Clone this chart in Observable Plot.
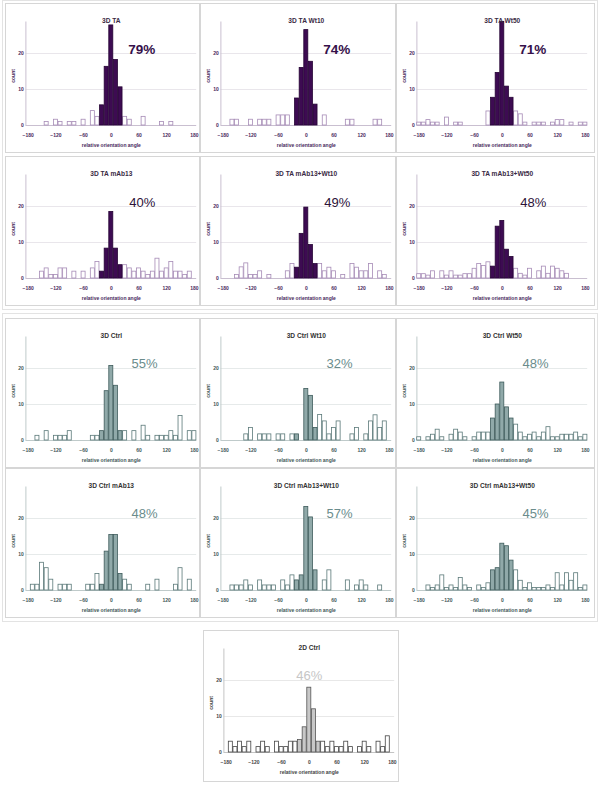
<!DOCTYPE html>
<html><head><meta charset="utf-8">
<script src="https://cdn.jsdelivr.net/npm/d3@7"></script>
<script src="https://cdn.jsdelivr.net/npm/@observablehq/plot@0.6"></script>
<style>
body{margin:0;background:#fff;}
#fig{position:relative;width:600px;height:795px;font-family:"Liberation Sans",Arial,sans-serif;background:#fff;}
.panel{position:absolute;box-sizing:border-box;border:1px solid #d6d6d6;background:#fff;}
.group{position:absolute;box-sizing:border-box;border:1px solid #e3e3e3;}
.panel svg{display:block;overflow:visible;}
</style></head>
<body><div id="fig"></div>
<script>
// bin centres (degrees)
const angles = [-180,-170,-160,-150,-140,-130,-120,-110,-100,
  -90,-80,-70,-60,-50,-40,-30,-20,-10,
  0,
  10,20,30,40,50,60,70,80,90,
  100,110,120,130,140,150,160,170,180];
const tickAngles = [-180,-120,-60,0,60,120,180];
const countTicks = [0,10,20];

const taCounts = [0,0,0,0,1,0,1.6,1,0,
  1,1,0,1.6,0,4,2.4,5.6,16.3,
  27.8,
  18.2,10.6,2.4,1.6,0,0,2.4,0,0,
  0,1,0,1,0,0,0,0,0];
const taWt10Counts = [0,0,1.6,1.6,0,0,1.6,0,1.6,
  1.6,1.6,0,2.8,2.8,2.8,0,7.5,16,
  26.5,
  17.7,5.8,0,2.8,0,0,0,0,1.6,
  1.6,0,0,0,0,1.6,1.6,0,0];
const taWt50Counts = [0.8,0.8,1.5,0.8,0.8,0,2.2,0,0.8,
  0.8,0,0,0,0,0,3.9,7.7,14.6,
  28.8,
  10.8,7.7,3.9,3.1,0.8,0,0.8,0.8,0.8,
  0,0.8,1.5,1.5,0,0.8,0,0.8,0.8];
const taMab13Counts = [0,0,0,1.9,2.8,1,1,2.8,2.8,
  0,1.9,0,1.9,0,2.8,4.6,1.9,8.3,
  18.5,
  8.3,3.7,3.7,2.8,1.9,2.8,1.9,1,1.9,
  5.5,1.9,2.8,4.6,1.9,1.9,1,1.9,0];
const taMab13Wt10Counts = [0,0,0,1,3.1,4.2,1,1,2,
  0,1,0,0,0,2,4,3,12.4,
  19.7,
  9.3,4,4,2,3,2,0,1,0,
  4,3,2,2,4,0,2,1,0];
const taMab13Wt50Counts = [1.2,1.2,0.8,2,0,2,0.8,2,0.8,
  0.8,1.2,1.2,2.7,4,3.5,4.5,3.3,14.4,
  16,
  8,6,2.7,1.3,0.8,2.7,0,2,3.3,
  1.3,3.3,2.7,2,1.3,0,0,0,0];
const ctrlCounts = [0,0,1.3,0,2.6,0,1.3,1.3,1.3,
  2.6,0,0,0,0,1.3,1.3,2.6,13.7,
  20.7,
  15.2,2.6,2.6,0,2.6,0,4.1,1.3,0,
  1.3,1.3,1.3,2.6,1.3,6.8,0,2.6,2.6];
const ctrlWt10Counts = [0,0,0,0,0,1.7,3.5,0,1.7,
  1.7,1.7,0,1.7,1.7,0,1.7,1.7,0,
  14.3,
  12.4,3.5,7.1,5.3,1.7,3.5,5.3,0,0,
  1.7,3.5,0,1.7,5.3,7,3.5,5.3,0];
const ctrlWt50Counts = [0.9,0,0.9,1.6,3,0.9,0,1.6,3,
  2.2,0.9,0,0.9,2.2,2.2,2.2,6.1,10,
  16.1,
  9.2,6.1,4.4,2.2,0.9,1.6,2.2,0.9,2.2,
  3.7,0.9,0.9,1.6,1.6,1.6,2.2,0.9,1.6];
const ctrlMab13Counts = [0,1.6,1.6,7.7,6.2,3,0,1.6,1.6,
  1.6,0,0,0,1.6,1.6,4.6,1.6,10.8,
  15.4,
  15.4,4.6,3,1.6,0,0,0,1.6,0,
  3,0,0,0,1.6,6.2,0,3,0];
const ctrlMab13Wt10Counts = [0,0,1.4,1.4,1.4,2.8,1.4,0,2.8,
  1.4,1.4,1.4,0,2.8,1.4,4.2,2.8,4.2,
  23.2,
  20.3,5.6,0,2.8,5.6,0,0,0,2.8,
  0,1.4,2.8,1.4,0,0,1.4,0,0];
const ctrlMab13Wt50Counts = [0,0,1.4,0.7,1.4,4.2,0.7,1.4,0.7,
  3.5,1.4,0.7,0,1.4,0.7,2,5.6,6.2,
  13,
  12.3,8.3,5.6,2.7,0.7,2,0.7,0.7,0.7,
  1.4,0.7,4.8,1.4,4.8,2.7,4.8,0.7,1.4];
const ctrl2DCounts = [0,3,1.5,3,1.5,3,0,1.5,3,
  1.5,0,3,1.5,1.5,3,3,3.5,7,
  18,
  12,3,3,1.5,3,1.5,1.5,3,1.5,
  0,1.5,3,1.5,0,3,1.5,4.5,0];

const titles = ["3D TA","3D TA Wt10","3D TA Wt50","3D TA mAb13","3D TA mAb13+Wt10","3D TA mAb13+Wt50",
  "3D Ctrl","3D Ctrl Wt10","3D Ctrl Wt50","3D Ctrl mAb13","3D Ctrl mAb13+Wt10","3D Ctrl mAb13+Wt50","2D Ctrl"];
const percents = ["79%","74%","71%","40%","49%","48%","55%","32%","48%","48%","57%","45%","46%"];
const series = [taCounts,taWt10Counts,taWt50Counts,taMab13Counts,taMab13Wt10Counts,taMab13Wt50Counts,
  ctrlCounts,ctrlWt10Counts,ctrlWt50Counts,ctrlMab13Counts,ctrlMab13Wt10Counts,ctrlMab13Wt50Counts,ctrl2DCounts];

const FONT = '"Liberation Sans", Arial, sans-serif';
const themes = {
  purpleBold: {fill:"#3d0b52", fillStroke:"#250434", open:"#a68bb6", pct:"#35104a", pctWeight:"bold", pctSize:13.5, px:66, py:21.2, tick:"#4a2a5c", axis:"#c9bfd0", grid:"#e9e6eb", title:"#3a2a44"},
  purple: {fill:"#3d0b52", fillStroke:"#250434", open:"#a68bb6", pct:"#2c1238", pctWeight:"normal", pctSize:13, px:67, py:20.9, tick:"#4a2a5c", axis:"#c9bfd0", grid:"#e9e6eb", title:"#3a2a44"},
  teal: {fill:"#90a9a9", fillStroke:"#3d5b5b", open:"#5b7979", pct:"#6a8c8c", pctWeight:"normal", pctSize:13, px:72, py:21.3, tick:"#3f5757", axis:"#bfcaca", grid:"#e6eaea", title:"#333"},
  gray: {fill:"#c8c8c8", fillStroke:"#555", open:"#444", pct:"#c6c6c6", pctWeight:"normal", pctSize:13, px:0, py:21.3, tick:"#444", axis:"#c4c4c4", grid:"#e8e8e8", title:"#333"}
};
const themeOf = ["purpleBold","purpleBold","purpleBold","purple","purple","purple","teal","teal","teal","teal","teal","teal","gray"];

const colLeft = [5,200,396], colW = [195,196,199];
const rowTop = [3,156,318,468];
const layout = [];
for (let r=0;r<4;r++) for (let c=0;c<3;c++) layout.push({left:colLeft[c], top:rowTop[r], w:colW[c], h:150});
layout.push({left:203, top:630, w:196, h:152});

const fig = document.getElementById("fig");
[[2,0,596,310],[2,313,596,309]].forEach(([l,t,w,h])=>{
  const g=document.createElement("div"); g.className="group";
  Object.assign(g.style,{left:l+"px",top:t+"px",width:w+"px",height:h+"px"}); fig.appendChild(g);
});

const Y0 = 121, YTOP = 17.5, YMAX = 28.75, XL = 19.4, XR = 190.2;

series.forEach((counts,i)=>{
  const L = layout[i], th = themes[themeOf[i]];
  const W = L.w-2, H = L.h-2;
  const rows = angles.map((a,j)=>({a, c:counts[j]})).filter(d=>d.c>0);
  const core = rows.filter(d=>Math.abs(d.a)<=20), open = rows.filter(d=>Math.abs(d.a)>20);
  const svg = Plot.plot({
    width: W, height: H,
    marginLeft: XL, marginRight: W-XR, marginTop: YTOP, marginBottom: H-Y0,
    style: {fontFamily: FONT, fontSize: "5px", fontWeight: "bold", color: th.tick, background: "#fff", overflow: "visible"},
    x: {domain: [-185,185], ticks: tickAngles, tickSize: 0, tickPadding: 7.5, label: null},
    y: {domain: [0,YMAX], ticks: countTicks, tickSize: 0, tickPadding: 2, label: null},
    marks: [
      Plot.ruleY(countTicks.filter(v=>v>0), {stroke: th.grid, strokeWidth: 1}),
      Plot.ruleY([0], {stroke: th.axis, strokeWidth: 1}),
      Plot.ruleX([-185], {y1: 0, y2: YMAX, stroke: th.axis, strokeWidth: 1}),
      Plot.rectY(open, {x1: d=>d.a-5, x2: d=>d.a+5, y: "c", fill: "#fff", stroke: th.open, strokeWidth: 0.8, insetLeft: 0.3, insetRight: 0.3}),
      Plot.rectY(core, {x1: d=>d.a-5, x2: d=>d.a+5, y: "c", fill: th.fill, stroke: th.fillStroke, strokeWidth: 0.8, insetLeft: 0.3, insetRight: 0.3}),
      Plot.text([titles[i]], {text: d=>d, frameAnchor: "top", dy: -4, fontSize: 6.6, fontWeight: "bold", fill: th.title}),
      Plot.text(["relative orientation angle"], {text: d=>d, frameAnchor: "bottom", dy: 21.5, fontSize: 5, fontWeight: "bold", fill: th.tick}),
      Plot.text(["count"], {text: d=>d, frameAnchor: "left", dx: -12.5, dy: 9, rotate: -90, fontSize: 5, fontWeight: "bold", fill: th.tick}),
      Plot.text([percents[i]], {text: d=>d, x: th.px, y: th.py, fontSize: th.pctSize, fontWeight: th.pctWeight, fill: th.pct})
    ]
  });
  const div = document.createElement("div");
  div.className = "panel";
  Object.assign(div.style, {left: L.left+"px", top: L.top+"px", width: L.w+"px", height: L.h+"px"});
  div.appendChild(svg);
  fig.appendChild(div);
});
</script>
</body></html>
